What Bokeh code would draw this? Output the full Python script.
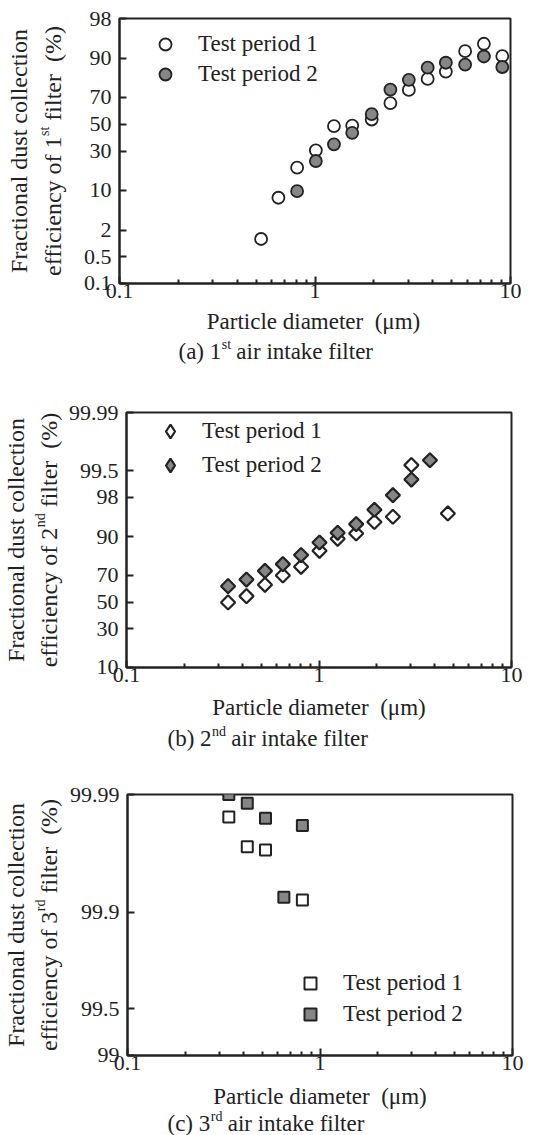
import math
from statistics import NormalDist
from bokeh.plotting import figure
from bokeh.layouts import row
from bokeh.models import (ColumnDataSource, FixedTicker, CustomJSTickFormatter, Label,
                          Legend, LegendItem, Range1d)
from bokeh.embed import file_html
from bokeh.resources import INLINE

FONT = "Liberation Serif"
INK = "#222222"
GRAY = "#868686"
NB = "\u00a0"

# ---------------- data ----------------
x_ticks = [0.1, 1, 10]
x_tick_labels = ["0.1", "1", "10"]

# (a) 1st filter
a_x1 = [0.53, 0.65, 0.81, 1.01, 1.25, 1.55, 1.95, 2.43, 3.02, 3.77, 4.67, 5.86, 7.31, 9.08]
a_y1 = [1.3, 7.7, 20.0, 30.7, 48.6, 49.0, 53.7, 66.0, 74.8, 81.1, 84.7, 92.2, 94.1, 90.7]
a_x2 = [0.81, 1.01, 1.25, 1.55, 1.95, 2.43, 3.02, 3.77, 4.67, 5.86, 7.31, 9.08]
a_y2 = [9.7, 23.8, 34.9, 43.4, 57.9, 75.0, 80.6, 86.4, 88.4, 87.7, 90.6, 86.7]
a_yticks = [0.1, 0.5, 2, 10, 30, 50, 70, 90, 98]
a_ytick_labels = ["0.1", "0.5", "2", "10", "30", "50", "70", "90", "98"]

# (b) 2nd filter
b_x1 = [0.337, 0.42, 0.524, 0.649, 0.807, 1.006, 1.25, 1.56, 1.94, 2.42, 3.02, 4.67]
b_y1 = [49.8, 54.7, 63.3, 70.0, 75.6, 84.3, 89.3, 91.1, 94.2, 95.3, 99.64, 95.9]
b_x2 = [0.337, 0.42, 0.524, 0.649, 0.807, 1.006, 1.25, 1.56, 1.94, 2.42, 3.02, 3.77]
b_y2 = [62.3, 67.1, 73.0, 77.2, 82.2, 87.9, 91.3, 93.7, 96.5, 98.2, 99.19, 99.73]
b_yticks = [10, 30, 50, 70, 90, 98, 99.5, 99.99]
b_ytick_labels = ["10", "30", "50", "70", "90", "98", "99.5", "99.99"]

# (c) 3rd filter
c_x1 = [0.336, 0.419, 0.521, 0.81]
c_y1 = [99.984, 99.971, 99.969, 99.92]
c_x2 = [0.336, 0.419, 0.521, 0.649, 0.81]
c_y2 = [99.99, 99.988, 99.9836, 99.924, 99.981]
c_yticks = [99, 99.5, 99.9, 99.99]
c_ytick_labels = ["99", "99.5", "99.9", "99.99"]

series_labels = ["Test period 1", "Test period 2"]
x_label = "Particle diameter" + NB + " (\u03bcm)"
y_label_1 = "Fractional dust collection"

ND = NormalDist()


def probit(p):
    return ND.inv_cdf(p / 100.0)


# Times / Liberation Serif advance widths (1/1000 em)
W = {' ': 250, NB: 250, '(': 333, ')': 333, '%': 833, '.': 250, 'a': 444, 'b': 500, 'c': 444,
     'd': 500, 'e': 444, 'f': 333, 'i': 278, 'k': 500, 'l': 278, 'm': 778, 'n': 500, 'o': 500,
     'p': 500, 'r': 333, 's': 389, 't': 278, 'u': 500, 'y': 500, 'F': 556, 'P': 556, 'T': 611}


def tw(s, size):
    return sum(W.get(ch, 500) for ch in s) / 1000.0 * size


PAGE_W = 548
DH = -6     # baseline correction for horizontal labels
DR = -11    # baseline correction for rotated labels


def text_fig(width, height, x0, y_top, y_bot, bt=0, bb=0):
    """A bare figure whose data coordinates are page pixels (y grows downward)."""
    f = figure(width=width, height=height, output_backend="svg", toolbar_location=None,
               x_axis_type=None, y_axis_type=None,
               x_range=Range1d(x0, x0 + width), y_range=Range1d(y_bot, y_top),
               min_border_left=0, min_border_right=0, min_border_top=bt, min_border_bottom=bb)
    f.outline_line_color = None
    f.background_fill_color = "white"
    f.border_fill_color = "white"
    return f


def add_txt(f, px, py, text, size, align="left", rotated=False):
    if rotated:
        px, ang = px + DR, math.pi / 2
    else:
        py, ang = py + DH, 0.0
    f.add_layout(Label(x=px, y=py, text=text, text_font=FONT, text_font_size=f"{size}px",
                       text_color=INK, text_align=align, text_baseline="alphabetic",
                       angle=ang))


def make_panel(g, x1, y1, x2, y2, yticks, ylabs, ybounds, marker, msize, mlw, angle,
               leg_marker, ordinal, letter):
    top, bot = g["top"], g["fb"] + 27
    h = bot - top
    lw = g["lw"]
    p = figure(width=PAGE_W - lw, height=h, x_axis_type="log", output_backend="svg",
               toolbar_location=None,
               x_range=Range1d(0.1 * 0.99999, 10 * 1.00001),
               y_range=Range1d(probit(ybounds[0]) - 1e-6, probit(ybounds[1]) + 1e-6),
               min_border_left=g["fl"] - lw,
               min_border_right=PAGE_W - g["fr"],
               min_border_top=g["ft"] - top,
               min_border_bottom=bot - g["fb"])
    p.background_fill_color = "white"
    p.border_fill_color = "white"
    p.grid.visible = False
    p.outline_line_color = INK
    p.outline_line_width = 2

    minors = [m * d for d in (0.1, 1) for m in range(2, 10)]
    p.xaxis.ticker = FixedTicker(ticks=x_ticks, minor_ticks=minors)
    p.xaxis.formatter = CustomJSTickFormatter(args=dict(vals=x_ticks, labs=x_tick_labels), code="""
        let b = 0, d = Infinity;
        for (let i = 0; i < vals.length; i++) { const e = Math.abs(Math.log10(vals[i]) - Math.log10(tick)); if (e < d) { d = e; b = i; } }
        return labs[b];""")
    zt = [probit(v) for v in yticks]
    p.yaxis.ticker = FixedTicker(ticks=zt, minor_ticks=[])
    p.yaxis.formatter = CustomJSTickFormatter(args=dict(vals=zt, labs=ylabs), code="""
        let b = 0, d = Infinity;
        for (let i = 0; i < vals.length; i++) { const e = Math.abs(vals[i] - tick); if (e < d) { d = e; b = i; } }
        return labs[b];""")
    for ax in (p.xaxis[0], p.yaxis[0]):
        ax.axis_line_color = INK
        ax.axis_line_width = 2
        ax.major_tick_line_color = INK
        ax.major_tick_line_width = 2
        ax.minor_tick_line_color = INK
        ax.minor_tick_line_width = 2
        ax.major_tick_out = 0
        ax.major_tick_in = 7
        ax.minor_tick_out = 0
        ax.minor_tick_in = 4
        ax.major_label_text_font = FONT
        ax.major_label_text_font_size = "22px"
        ax.major_label_text_color = INK
    p.xaxis.major_label_standoff = 0
    p.yaxis.major_label_standoff = 8

    s1 = ColumnDataSource(dict(x=x1, pct=y1, z=[probit(v) for v in y1]))
    s2 = ColumnDataSource(dict(x=x2, pct=y2, z=[probit(v) for v in y2]))
    r1 = p.scatter("x", "z", source=s1, marker=marker, size=msize, angle=angle,
                   fill_color="white", line_color=INK, line_width=mlw)
    r2 = p.scatter("x", "z", source=s2, marker=marker, size=msize, angle=angle,
                   fill_color=GRAY, line_color=INK, line_width=mlw)
    if leg_marker is not None:
        # legend keys only (Bokeh does not rotate markers inside legends);
        # a single NaN point so that nothing is drawn in the plot area
        nan = float("nan")
        l1 = p.scatter(x=[nan], y=[nan], marker=leg_marker, fill_color="white",
                       line_color=INK, line_width=mlw)
        l2 = p.scatter(x=[nan], y=[nan], marker=leg_marker, fill_color=GRAY,
                       line_color=INK, line_width=mlw)
        gw = 34
    else:
        l1, l2 = r1, r2
        gw = 30

    lg = g["leg"]
    leg = Legend(items=[LegendItem(label=series_labels[0], renderers=[l1]),
                        LegendItem(label=series_labels[1], renderers=[l2])],
                 location=(lg["mx"] - gw / 2 - g["fl"], g["fb"] - (lg["r2"] + gw / 2)),
                 padding=0, margin=0, spacing=int(lg["r2"] - lg["r1"] - gw),
                 glyph_width=gw, glyph_height=gw, label_height=gw,
                 label_standoff=int(lg["tx"] - (lg["mx"] + gw / 2)),
                 border_line_alpha=0, background_fill_alpha=0,
                 label_text_font=FONT, label_text_font_size="23px", label_text_color=INK)
    p.add_layout(leg)

    # left strip carrying the rotated y label (same vertical frame as the plot)
    yl = text_fig(lw, h, 0, g["ft"], g["fb"], bt=g["ft"] - top, bb=bot - g["fb"])
    fs, sfs = 24, 14
    cy = (g["ft"] + g["fb"]) / 2
    add_txt(yl, g["yb1"], cy, y_label_1, fs, align="center", rotated=True)
    p1 = f"efficiency of {ordinal[0]}"
    p3 = "filter" + NB + " (%)"
    w1, w2, ws, w3 = tw(p1, fs), tw(ordinal[1], sfs), tw(" ", fs), tw(p3, fs)
    y0 = cy + (w1 + w2 + ws + w3) / 2
    add_txt(yl, g["yb2"], y0, p1, fs, rotated=True)
    add_txt(yl, g["yb2"] - 8, y0 - w1, ordinal[1], sfs, rotated=True)
    add_txt(yl, g["yb2"], y0 - w1 - w2 - ws, p3, fs, rotated=True)

    # strip below: x axis label and caption
    cap_top, cap_bot = bot, g["next"]
    cf = text_fig(PAGE_W, cap_bot - cap_top, 0, cap_top, cap_bot)
    add_txt(cf, (g["fl"] + g["fr"]) / 2, g["xlab"], x_label, 23, align="center")
    cfs = 23
    c1 = f"({letter}) {ordinal[0]}"
    c3 = "air intake filter"
    cx, cyb = g["capx"], g["capy"]
    add_txt(cf, cx, cyb, c1, cfs)
    add_txt(cf, cx + tw(c1, cfs) + 0.5, cyb - 7, ordinal[1], sfs)
    add_txt(cf, cx + tw(c1, cfs) + tw(ordinal[1], sfs) + tw(" ", cfs), cyb, c3, cfs)
    return [row(yl, p, spacing=0), cf]


ga = dict(top=0, next=378, lw=80, fl=116, fr=510, ft=18, fb=283, xlab=327, yb1=29, yb2=63,
          capx=178, capy=357, leg=dict(mx=162, tx=195, r1=44, r2=74))
gb = dict(top=378, next=760, lw=65, fl=126, fr=511, ft=412, fb=667, xlab=713, yb1=26, yb2=59,
          capx=167, capy=744, leg=dict(mx=170, tx=202, r1=435, r2=465))
gc = dict(top=760, next=1135, lw=65, fl=127, fr=512, ft=794, fb=1055, xlab=1102, yb1=26, yb2=59,
          capx=167, capy=1129, leg=dict(mx=310, tx=343, r1=983, r2=1014))

roots = []
roots += make_panel(ga, a_x1, a_y1, a_x2, a_y2, a_yticks, a_ytick_labels, (0.1, 98),
                    "circle", 12, 1.8, 0.0, None, ("1", "st"), "a")
roots += make_panel(gb, b_x1, b_y1, b_x2, b_y2, b_yticks, b_ytick_labels, (10, 99.99),
                    "square", 10, 2.2, math.pi / 4, "diamond", ("2", "nd"), "b")
roots += make_panel(gc, c_x1, c_y1, c_x2, c_y2, c_yticks, c_ytick_labels, (99, 99.99),
                    "square", 11, 2.0, 0.0, None, ("3", "rd"), "c")

open("out.html", "w").write(file_html(roots, INLINE))
